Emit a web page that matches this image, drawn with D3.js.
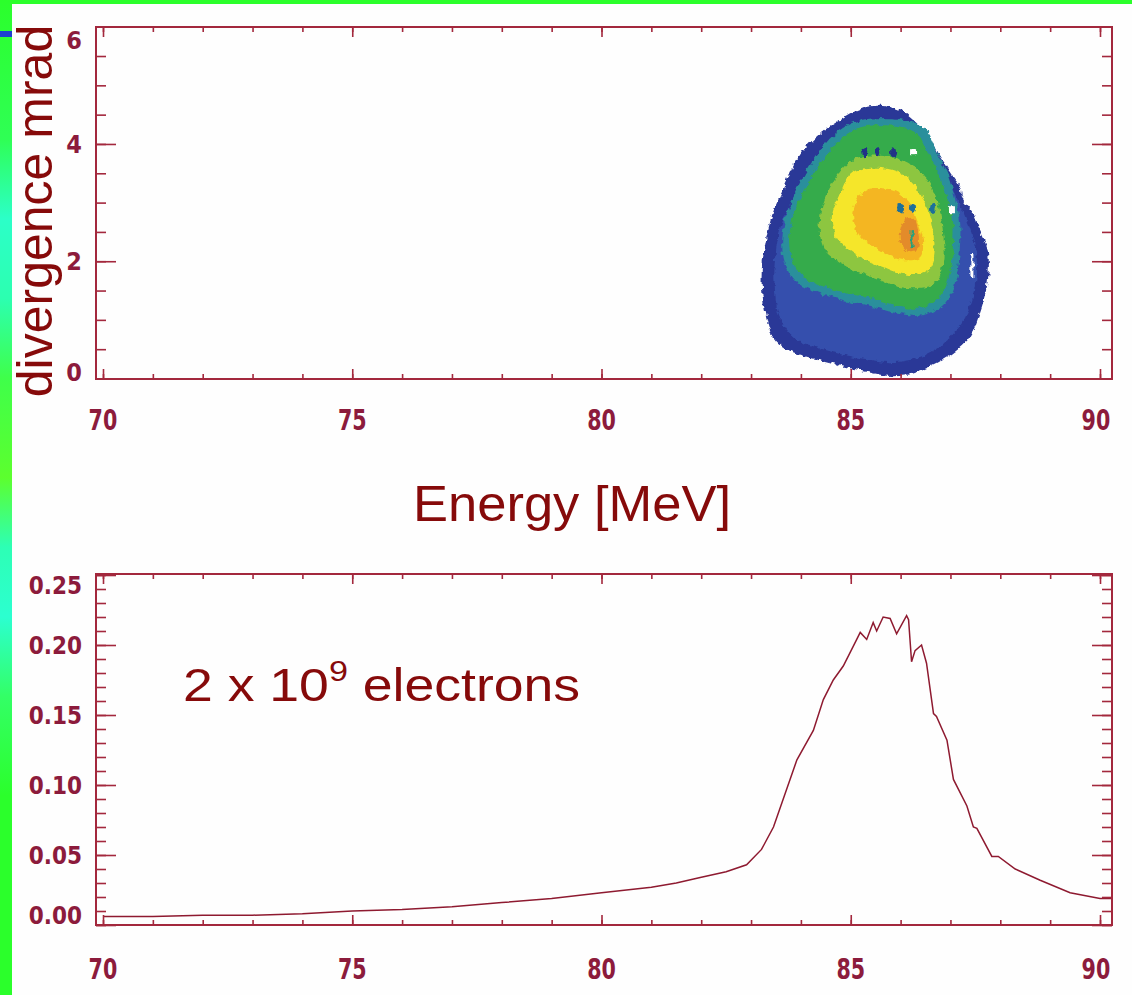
<!DOCTYPE html>
<html>
<head>
<meta charset="utf-8">
<script src="https://cdn.jsdelivr.net/npm/d3@7"></script>
<style>
  html, body { margin: 0; padding: 0; background: #2bff2b; }
  svg { display: block; }
</style>
</head>
<body>
<svg id="chart" width="1132" height="995"></svg>
<script>
// ---------- data ----------
// Energy axis ticks (MeV)
const energyMajorTicks = [70, 75, 80, 85, 90];
const energyMinorTicks = d3.range(70, 91, 1);
// Divergence axis ticks (mrad)
const divMajorTicks = [0, 2, 4, 6];
const divMinorTicks = [0, 0.5, 1, 1.5, 2, 2.5, 3, 3.5, 4, 4.5, 5, 5.5, 6];
// Spectrum axis ticks
const specMajorTicks = [0, 0.05, 0.10, 0.15, 0.20, 0.25];
const specMinorTicks = d3.range(0, 0.2501, 0.01);
const specTickLabels = ["0.00", "0.05", "0.10", "0.15", "0.20", "0.25"];

// Divergence/energy map: filled level outlines, [energy MeV, divergence mrad]
const levelOuter = [[85.59,4.65],[85.99,4.58],[86.25,4.41],[86.53,4.19],[86.79,3.78],[87.05,3.44],[87.19,3.27],[87.25,3.05],[87.45,2.83],[87.59,2.53],[87.73,2.24],[87.77,1.97],[87.73,1.56],[87.59,1.12],[87.39,0.71],[87.05,0.43],[86.65,0.23],[86.25,0.09],[85.85,0.04],[85.33,0.11],[84.64,0.25],[84.12,0.37],[83.72,0.49],[83.44,0.71],[83.30,1.05],[83.22,1.51],[83.22,1.90],[83.30,2.36],[83.44,2.83],[83.64,3.22],[83.92,3.73],[84.24,4.07],[84.78,4.41],[85.23,4.61]];
const levelBlue = [[85.59,4.44],[86.09,4.32],[86.49,3.98],[86.89,3.47],[87.19,2.96],[87.43,2.46],[87.53,1.99],[87.49,1.51],[87.29,1.03],[86.95,0.66],[86.49,0.40],[85.89,0.28],[85.19,0.35],[84.48,0.49],[83.88,0.69],[83.58,1.03],[83.48,1.51],[83.48,2.02],[83.58,2.53],[83.82,3.05],[84.14,3.52],[84.48,3.93],[84.99,4.27]];
const levelTeal = [[85.13,4.39],[85.63,4.44],[86.19,4.39],[86.53,4.22],[86.73,3.86],[86.93,3.50],[87.07,3.13],[87.19,2.70],[87.19,2.26],[87.13,1.77],[86.91,1.30],[86.43,1.08],[85.99,1.10],[85.35,1.25],[84.85,1.34],[84.32,1.47],[83.86,1.68],[83.64,2.12],[83.68,2.70],[83.94,3.27],[84.32,3.81],[84.68,4.17]];
const levelGreen = [[85.13,4.27],[85.59,4.32],[86.13,4.27],[86.39,4.12],[86.59,3.78],[86.79,3.44],[86.93,3.10],[87.05,2.70],[87.05,2.27],[86.99,1.80],[86.79,1.39],[86.39,1.20],[85.99,1.22],[85.39,1.37],[84.89,1.46],[84.38,1.59],[83.98,1.78],[83.78,2.16],[83.82,2.70],[84.08,3.22],[84.44,3.73],[84.78,4.07]];
const levelLime = [[85.03,3.73],[85.59,3.80],[86.15,3.68],[86.53,3.39],[86.75,2.98],[86.85,2.50],[86.87,1.99],[86.69,1.63],[86.13,1.54],[85.51,1.70],[84.91,1.92],[84.48,2.19],[84.38,2.70],[84.58,3.25]];
const levelYellow = [[85.05,3.52],[85.59,3.59],[86.03,3.49],[86.33,3.25],[86.53,2.91],[86.65,2.50],[86.67,2.07],[86.53,1.82],[86.13,1.77],[85.59,1.92],[85.05,2.14],[84.72,2.40],[84.62,2.74],[84.78,3.13]];
const levelOrange = [[85.33,3.22],[85.79,3.22],[86.13,3.05],[86.33,2.70],[86.45,2.36],[86.39,2.07],[86.05,2.02],[85.59,2.19],[85.19,2.41],[85.05,2.75],[85.13,3.05]];
const levelPeak = [[86.05,2.67],[86.23,2.74],[86.35,2.53],[86.33,2.19],[86.15,2.16],[85.99,2.36]];
const levelOutlines = [levelOuter, levelBlue, levelTeal, levelGreen, levelLime, levelYellow, levelOrange, levelPeak];
const levelColors = ["#2c3997", "#3450ad", "#2a8f9c", "#35ab4c", "#8dc63f", "#f5e62a", "#f4b624", "#e38b2a"];

// Detector speckles: [energy, divergence]
const darkSpots = [[85.29,3.86],[85.53,3.86],[85.85,3.86]];
const tealSpots = [[85.99,2.91],[86.25,2.91],[86.65,2.91]];
const whiteSpots = [[86.25,3.86],[87.03,2.87]];
const tealStreak = [[86.23,2.53],[86.23,2.24]];
const whiteStreak = [[87.43,2.14],[87.43,1.73]];

// Integrated spectrum: [energy MeV, value]
const spectrumEnergy = [70, 71, 72, 73, 74, 75, 76, 77, 78, 79, 80, 81, 81.5, 81.98, 82.5, 82.91, 83.21, 83.45, 83.92, 84.25, 84.45, 84.65, 84.85, 85.12, 85.19, 85.32, 85.45, 85.52, 85.65, 85.79, 85.92, 86.12, 86.16, 86.22, 86.29, 86.42, 86.52, 86.66, 86.72, 86.93, 87.06, 87.33, 87.46, 87.53, 87.83, 87.96, 88.3, 88.8, 89.4, 90.0, 90.22];
const spectrumValue  = [0.006, 0.006, 0.007, 0.007, 0.008, 0.010, 0.011, 0.013, 0.016, 0.019, 0.023, 0.027, 0.030, 0.034, 0.038, 0.043, 0.054, 0.070, 0.118, 0.139, 0.161, 0.175, 0.185, 0.204, 0.209, 0.204, 0.216, 0.210, 0.220, 0.219, 0.208, 0.221, 0.218, 0.188, 0.196, 0.200, 0.187, 0.151, 0.149, 0.132, 0.104, 0.085, 0.070, 0.069, 0.049, 0.049, 0.040, 0.032, 0.023, 0.019, 0.019];

// ---------- layout ----------
const W = 1132, H = 995;
const axisColor = "#a3283d";
const labelColor = "#8c1b3c";
const titleColor = "#860a0a";
const tickFont = "'DejaVu Sans Condensed', 'DejaVu Sans', sans-serif";
const textFont = "'Liberation Sans', Arial, sans-serif";

const frameX = [96, 1112];
const topFrame = {top: 27, bottom: 379};
const botFrame = {top: 574, bottom: 925};

const svg = d3.select("#chart");
const defs = svg.append("defs");

// slide border: green strip with cyan patches on the left
const grad = defs.append("linearGradient").attr("id", "edgeGrad")
  .attr("x1", 0).attr("y1", 0).attr("x2", 0).attr("y2", 1);
[[0, "#2bff2b"], [0.14, "#2fff55"], [0.22, "#2cffc8"], [0.3, "#2cffb0"], [0.38, "#3fff4a"],
 [0.48, "#5cff2e"], [0.55, "#2dffb5"], [0.62, "#2cffd0"], [0.7, "#33ff66"], [0.8, "#2bff2b"], [1, "#2bff2b"]]
  .forEach(([o, c]) => grad.append("stop").attr("offset", o).attr("stop-color", c));

svg.append("rect").attr("width", W).attr("height", H).attr("fill", "#2bff2b");
svg.append("rect").attr("x", 0).attr("y", 0).attr("width", 12).attr("height", H).attr("fill", "url(#edgeGrad)");
svg.append("rect").attr("x", 0).attr("y", 31).attr("width", 12).attr("height", 6).attr("fill", "#1d3fd0");
svg.append("rect").attr("x", 12).attr("y", 4).attr("width", W - 12).attr("height", H - 4).attr("fill", "#fefefe");

// rough edges for the detector image
const rough = defs.append("filter").attr("id", "rough")
  .attr("x", "-5%").attr("y", "-5%").attr("width", "110%").attr("height", "110%");
rough.append("feTurbulence").attr("type", "fractalNoise").attr("baseFrequency", 0.18)
  .attr("numOctaves", 2).attr("seed", 3).attr("result", "noise");
rough.append("feDisplacementMap").attr("in", "SourceGraphic").attr("in2", "noise")
  .attr("scale", 6).attr("xChannelSelector", "R").attr("yChannelSelector", "G");

// ---------- scales ----------
const x = d3.scaleLinear().domain([70, 90]).range([103, 1100]);
const yDiv = d3.scaleLinear().domain([0, 6]).range([378.5, 26.7]);
const ySpec = d3.scaleLinear().domain([0, 0.25]).range([925, 575]);

function drawFrame(g, frame, yScale, yMajor, yMinor, yMajorLen, yMinorLen) {
  const xs = (axis, len, ticks) => axis.tickValues(ticks).tickSize(len).tickFormat("");
  const addAxis = (axis, tx, ty) => {
    const a = g.append("g").attr("transform", `translate(${tx},${ty})`).call(axis);
    a.select(".domain").remove();
    a.selectAll("line").attr("stroke", axisColor).attr("stroke-width", 1.6);
  };
  // bottom and top energy ticks, pointing inward
  addAxis(xs(d3.axisBottom(x), -5, energyMinorTicks), 0, frame.bottom);
  addAxis(xs(d3.axisBottom(x), -10, energyMajorTicks), 0, frame.bottom);
  addAxis(xs(d3.axisTop(x), -5, energyMinorTicks), 0, frame.top);
  addAxis(xs(d3.axisTop(x), -10, energyMajorTicks), 0, frame.top);
  // left and right value ticks, pointing inward
  addAxis(xs(d3.axisLeft(yScale), -yMinorLen, yMinor), frameX[0], 0);
  addAxis(xs(d3.axisLeft(yScale), -yMajorLen, yMajor), frameX[0], 0);
  addAxis(xs(d3.axisRight(yScale), -yMinorLen, yMinor), frameX[1], 0);
  addAxis(xs(d3.axisRight(yScale), -yMajorLen, yMajor), frameX[1], 0);
  g.append("rect")
    .attr("x", frameX[0]).attr("y", frame.top)
    .attr("width", frameX[1] - frameX[0]).attr("height", frame.bottom - frame.top)
    .attr("fill", "none").attr("stroke", axisColor).attr("stroke-width", 2);
}

function energyLabels(g, yPos) {
  const cx = d => Math.min(Math.max(x(d), frameX[0] + 7), frameX[1] - 16);
  g.selectAll(null).data(energyMajorTicks).join("text")
    .attr("x", cx)
    .attr("y", yPos)
    .attr("text-anchor", "middle")
    .attr("font-family", tickFont).attr("font-weight", "bold")
    .attr("font-size", 27).attr("fill", labelColor)
    .attr("transform", d => `translate(${cx(d)},${yPos}) scale(0.85,1.05) translate(${-cx(d)},${-yPos})`)
    .text(d => d);
}

// ---------- upper panel: divergence vs energy ----------
const upper = svg.append("g");
const blob = upper.append("g").attr("filter", "url(#rough)");
const area = d3.line().x(d => x(d[0])).y(d => yDiv(d[1])).curve(d3.curveCatmullRomClosed.alpha(0.5));
blob.selectAll("path.level").data(levelOutlines).join("path")
  .attr("class", "level")
  .attr("d", area)
  .attr("fill", (d, i) => levelColors[i]);
blob.selectAll("ellipse.dark").data(darkSpots).join("ellipse").attr("class", "dark")
  .attr("cx", d => x(d[0])).attr("cy", d => yDiv(d[1])).attr("rx", 3).attr("ry", 5).attr("fill", "#233287");
blob.selectAll("ellipse.teal").data(tealSpots).join("ellipse").attr("class", "teal")
  .attr("cx", d => x(d[0])).attr("cy", d => yDiv(d[1])).attr("rx", 3).attr("ry", 5).attr("fill", "#1f6f9a");
blob.selectAll("rect.white").data(whiteSpots).join("rect").attr("class", "white")
  .attr("x", d => x(d[0]) - 3).attr("y", d => yDiv(d[1]) - 3).attr("width", 6).attr("height", 6).attr("fill", "#ffffff");
blob.append("path").attr("d", d3.line().x(d => x(d[0])).y(d => yDiv(d[1]))(tealStreak))
  .attr("stroke", "#2aa07a").attr("stroke-width", 3).attr("fill", "none");
blob.append("path").attr("d", d3.line().x(d => x(d[0])).y(d => yDiv(d[1]))(whiteStreak))
  .attr("stroke", "#ffffff").attr("stroke-width", 3).attr("fill", "none");

drawFrame(upper, topFrame, yDiv, divMajorTicks, divMinorTicks, 20, 10);

upper.selectAll("text.ylab").data(divMajorTicks).join("text").attr("class", "ylab")
  .attr("x", 82)
  .attr("y", d => Math.min(Math.max(yDiv(d), topFrame.top + 13), topFrame.bottom - 7) + 9)
  .attr("text-anchor", "end")
  .attr("font-family", tickFont).attr("font-weight", "bold")
  .attr("font-size", 25).attr("fill", labelColor)
  .text(d => d);
energyLabels(upper.append("g"), 430);

svg.append("text")
  .attr("transform", "translate(52,211) rotate(-90)")
  .attr("text-anchor", "middle")
  .attr("font-family", textFont).attr("font-size", 50).attr("fill", titleColor)
  .text("divergence mrad");

svg.append("text")
  .attr("transform", "translate(572,521) scale(1.05,1)")
  .attr("text-anchor", "middle")
  .attr("font-family", textFont).attr("font-size", 50).attr("fill", titleColor)
  .text("Energy [MeV]");

// ---------- lower panel: integrated spectrum ----------
const lower = svg.append("g");
const spectrum = spectrumEnergy.map((e, i) => [e, spectrumValue[i]]);
lower.append("path")
  .attr("d", d3.line().x(d => x(d[0])).y(d => ySpec(d[1]))(spectrum))
  .attr("fill", "none").attr("stroke", "#8e1a30").attr("stroke-width", 1.5);

drawFrame(lower, botFrame, ySpec, specMajorTicks, specMinorTicks, 20, 10);

lower.selectAll("text.ylab").data(specMajorTicks).join("text").attr("class", "ylab")
  .attr("x", 82)
  .attr("y", d => Math.min(Math.max(ySpec(d), botFrame.top + 11), botFrame.bottom - 10) + 9)
  .attr("text-anchor", "end")
  .attr("font-family", tickFont).attr("font-weight", "bold")
  .attr("font-size", 24).attr("fill", labelColor)
  .text((d, i) => specTickLabels[i]);
energyLabels(lower.append("g"), 979);

const note = lower.append("text")
  .attr("transform", "translate(183,701) scale(1.14,1)")
  .attr("font-family", textFont).attr("font-size", 47).attr("fill", titleColor);
note.append("tspan").text("2 x 10");
note.append("tspan").attr("dy", -20).attr("font-size", 30).text("9");
note.append("tspan").attr("dy", 20).text(" electrons");
</script>
</body>
</html>
